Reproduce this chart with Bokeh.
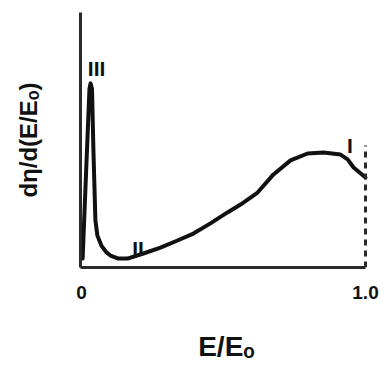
from bokeh.plotting import figure
from bokeh.models import Range1d, FixedTicker, Label, LinearAxis
from bokeh.embed import file_html
from bokeh.resources import INLINE

# Data (arbitrary y units, x in E/Eo)
curve_x = [0.004, 0.028, 0.032, 0.037, 0.042, 0.049, 0.056, 0.070, 0.088, 0.102,
           0.130, 0.162, 0.218, 0.278, 0.338, 0.394, 0.454, 0.514, 0.560, 0.620,
           0.676, 0.736, 0.796, 0.852, 0.912, 0.937, 0.958, 1.0]
curve_y = [0.035, 0.700, 0.722, 0.700, 0.459, 0.184, 0.125, 0.086, 0.059, 0.047,
           0.035, 0.035, 0.055, 0.078, 0.106, 0.133, 0.173, 0.216, 0.247, 0.294,
           0.365, 0.420, 0.447, 0.451, 0.443, 0.424, 0.392, 0.353]
cutoff_x = [1.0, 1.0]
cutoff_y = [0.0, 0.478]
tick_values = [0, 1]
tick_labels = {0: "0", 1: "1.0"}
region_names = ["III", "II", "I"]
region_x = [0.053, 0.199, 0.945]
region_y = [0.780, 0.0745, 0.478]
x_title = "E/E\u2092"
y_title = "d\u03b7/d(E/E\u2092)"

FONT = "Liberation Sans"
INK = "#111111"
AXIS = "#2a2a2a"

xmin = -0.0035
p = figure(width=380, height=368, output_backend="svg", toolbar_location=None,
           x_range=Range1d(xmin, 1.0246), y_range=Range1d(0, 1),
           min_border_left=80, min_border_right=8, min_border_top=12,
           min_border_bottom=101)
p.grid.visible = False
p.outline_line_color = None
p.background_fill_color = "white"
p.border_fill_color = "white"

xa = p.xaxis[0]
xa.ticker = FixedTicker(ticks=tick_values)
xa.major_label_overrides = tick_labels
xa.bounds = (xmin, 1.0)
xa.axis_line_width = 3
xa.axis_line_color = AXIS
xa.major_tick_line_color = None
xa.major_tick_out = 0
xa.minor_tick_line_color = None
xa.major_label_text_font = FONT
xa.major_label_text_font_style = "bold"
xa.major_label_text_font_size = "19px"
xa.major_label_text_color = INK
xa.major_label_standoff = 18

ya = p.yaxis[0]
ya.ticker = FixedTicker(ticks=[])
ya.axis_line_width = 3
ya.axis_line_color = AXIS
ya.major_tick_line_color = None
ya.major_tick_out = 0
ya.minor_tick_line_color = None
ya.major_label_text_font_size = "0px"

# title-only axes (no line), bounded so the titles sit where the reference puts them
xt = LinearAxis(ticker=FixedTicker(ticks=[]), bounds=(0.205, 0.86), axis_line_color=None,
                major_tick_line_color=None, minor_tick_line_color=None,
                major_tick_out=0, major_label_text_font_size="0px",
                axis_label=x_title, axis_label_text_font=FONT,
                axis_label_text_font_style="bold", axis_label_text_font_size="28px",
                axis_label_text_color=INK, axis_label_standoff=29)
p.add_layout(xt, "below")
yt = LinearAxis(ticker=FixedTicker(ticks=[]), bounds=(0.361, 0.961), axis_line_color=None,
                major_tick_line_color=None, minor_tick_line_color=None,
                major_tick_out=0, major_label_text_font_size="0px",
                axis_label=y_title, axis_label_text_font=FONT,
                axis_label_text_font_style="bold", axis_label_text_font_size="24px",
                axis_label_text_color=INK, axis_label_standoff=39)
p.add_layout(yt, "left")

p.line(curve_x, curve_y, line_width=4, line_color=INK, line_join="round", line_cap="round")
p.line(cutoff_x, cutoff_y, line_width=3, line_color=AXIS, line_dash="6 5")

for name, lx, ly in zip(region_names, region_x, region_y):
    p.add_layout(Label(x=lx, y=ly, text=name, text_align="center", text_baseline="alphabetic",
                       text_font=FONT, text_font_style="bold", text_font_size="21px",
                       text_color=INK))

open("out.html", "w").write(file_html(p, INLINE))
